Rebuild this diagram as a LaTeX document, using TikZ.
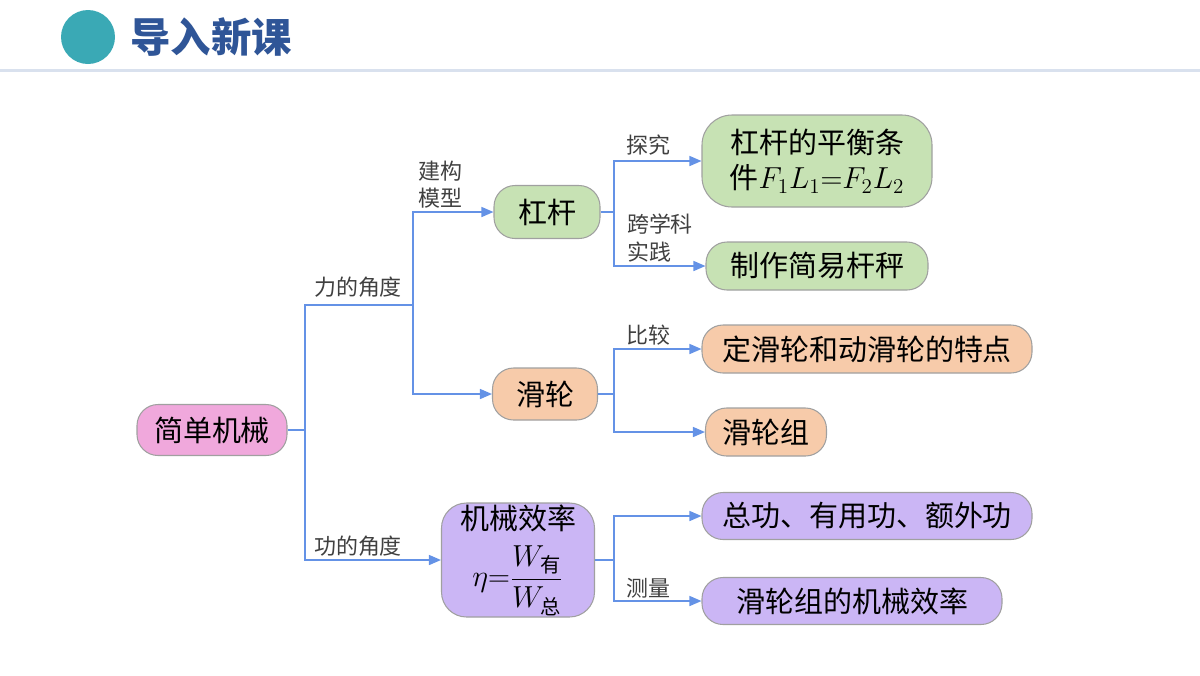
\documentclass[tikz,border=0pt]{standalone}
\usepackage{amsmath}
\usepackage{fontspec}
\setmainfont{Noto Sans CJK SC}
\usetikzlibrary{arrows.meta,positioning,calc}
\definecolor{link}{HTML}{6492E6}
\definecolor{edge}{HTML}{A0A0A0}
\definecolor{pinkfill}{HTML}{F0A8DC}
\definecolor{leaf}{HTML}{C7E2B4}
\definecolor{peach}{HTML}{F7CBAA}
\definecolor{lilac}{HTML}{CBB6F5}
\definecolor{tealdot}{HTML}{3AA9B5}
\definecolor{navy}{HTML}{2F5597}
\definecolor{rule}{HTML}{D9E1EE}
\definecolor{note}{HTML}{404040}
\tikzset{
  topic/.style={
    draw=edge, line width=0.6pt, rounded corners=0.42cm,
    inner sep=0pt, align=center,
    font=\fontsize{16.5}{20}\selectfont
  },
  tag/.style={
    inner sep=1pt, align=left, text=note,
    font=\fontsize{12.5}{15.5}\selectfont
  },
  link/.style={draw=link, line width=0.8pt},
  arr/.style={link, -{Triangle[length=2.4mm,width=2mm]}}
}
\begin{document}
\begin{tikzpicture}
  \useasboundingbox (0,0) rectangle (24,-13.5);
  % header
  \fill[tealdot] (1.76,-0.74) circle (0.54);
  \node[anchor=west, inner sep=0pt, text=navy, font=\fontsize{23}{26}\selectfont\bfseries] (title) at (2.6,-0.74) {导入新课};
  \draw[rule, line width=1.7pt] (0,-1.4) -- (24,-1.4);

  % nodes
  \node[topic, fill=pinkfill, minimum width=3.0cm, minimum height=1.02cm] (root) at (4.24,-8.6) {简单机械};
  \node[topic, fill=leaf, minimum width=2.12cm, minimum height=1.06cm] (lever) at (10.94,-4.24) {杠杆};
  \node[topic, fill=peach, minimum width=2.1cm, minimum height=1.04cm] (pulley) at (10.9,-7.88) {滑轮};
  \node[topic, fill=lilac, rounded corners=0.5cm, minimum width=3.06cm, minimum height=2.28cm] (eff) at (10.36,-11.2)
    {机械效率\\[7pt]$\eta{=}\dfrac{W_{\text{有}}}{W_{\text{总}}}$};
  \node[topic, fill=leaf, rounded corners=0.6cm, minimum width=4.6cm, minimum height=1.84cm] (balance) at (16.34,-3.22)
    {杠杆的平衡条\\件$F_1L_1{=}F_2L_2$};
  \node[topic, fill=leaf, minimum width=4.44cm, minimum height=0.96cm] (scale) at (16.34,-5.32) {制作简易杆秤};
  \node[topic, fill=peach, minimum width=6.6cm, minimum height=0.96cm] (fixed) at (17.34,-6.98) {定滑轮和动滑轮的特点};
  \node[topic, fill=peach, minimum width=2.42cm, minimum height=0.96cm] (group) at (15.32,-8.64) {滑轮组};
  \node[topic, fill=lilac, minimum width=6.6cm, minimum height=0.94cm] (work) at (17.34,-10.32) {总功、有用功、额外功};
  \node[topic, fill=lilac, minimum width=6.0cm, minimum height=0.94cm] (effgroup) at (17.04,-12.02) {滑轮组的机械效率};

  % junctions
  \coordinate (j0) at (6.1,-8.6);
  \coordinate (j1) at (8.26,-6.1);
  \coordinate (j2) at (12.28,-4.24);
  \coordinate (j3) at (12.28,-7.88);
  \coordinate (j4) at (12.28,-11.2);

  % connectors
  \draw[link] (root.east) -- (j0) |- (j1);
  \draw[arr] (j1) |- (lever.west);
  \draw[arr] (j1) |- (pulley.west);
  \draw[arr] (j0) |- (eff.west);
  \draw[link] (lever.east) -- (j2);
  \draw[arr] (j2) |- (balance.west);
  \draw[arr] (j2) |- (scale.west);
  \draw[link] (pulley.east) -- (j3);
  \draw[arr] (j3) |- (fixed.west);
  \draw[arr] (j3) |- (group.west);
  \draw[link] (eff.east) -- (j4);
  \draw[arr] (j4) |- (work.west);
  \draw[arr] (j4) |- (effgroup.west);

  % labels
  \node[tag] (force) at (7.16,-5.74) {力的角度};
  \node[tag] (workview) at (7.16,-10.92) {功的角度};
  \node[tag] (model) at (8.8,-3.7) {建构\\模型};
  \node[tag] (explore) at (12.96,-2.9) {探究};
  \node[tag] (practice) at (13.2,-4.76) {跨学科\\实践};
  \node[tag] (compare) at (12.96,-6.7) {比较};
  \node[tag] (measure) at (12.96,-11.76) {测量};
\end{tikzpicture}
\end{document}
